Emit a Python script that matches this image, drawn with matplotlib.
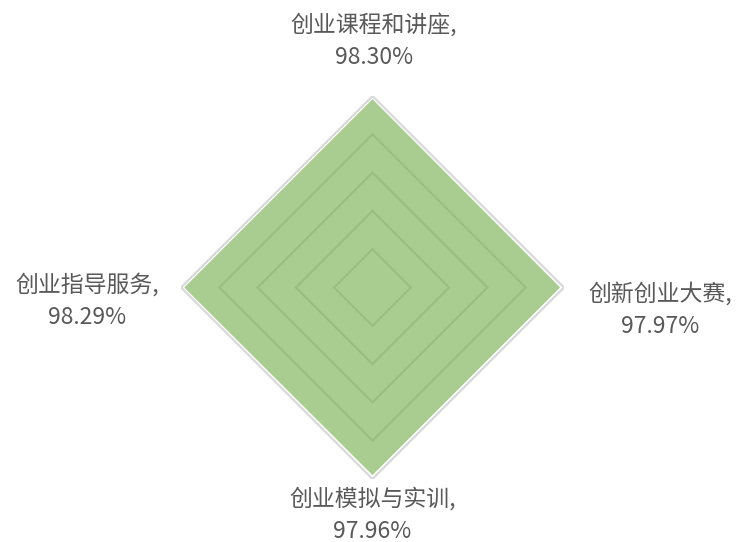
import numpy as np
import matplotlib
matplotlib.use("Agg")
import matplotlib.pyplot as plt

plt.rcParams['font.family'] = ['Noto Sans CJK SC', 'DejaVu Sans']

categories = ["创业课程和讲座", "创新创业大赛", "创业模拟与实训", "创业指导服务"]
values = [98.30, 97.97, 97.96, 98.29]
value_labels = ["98.30%", "97.97%", "97.96%", "98.29%"]
grid_levels = [20, 40, 60, 80, 100]

W, H = 737, 542
fig = plt.figure(figsize=(W / 100, H / 100), dpi=100)
cx, cy, R = 372.5, 287.5, 191.5
ax = fig.add_axes([(cx - R) / W, (H - cy - R) / H, 2 * R / W, 2 * R / H], projection='polar')
ax.set_theta_offset(np.pi / 2)
ax.set_theta_direction(-1)
ax.set_ylim(0, 100)
ax.grid(False)
ax.set_xticks([])
ax.set_yticks([])
ax.spines['polar'].set_visible(False)
ax.patch.set_alpha(0)

n = len(categories)
angles = np.linspace(0, 2 * np.pi, n, endpoint=False)
closed = np.concatenate([angles, angles[:1]])

for lvl in grid_levels:
    ax.plot(closed, [lvl] * (n + 1), color='#D9D9D9', lw=1.6, zorder=1, solid_joinstyle='miter')

vals = values + values[:1]
ax.fill(closed, vals, color='#70AD47', alpha=0.6, lw=0, zorder=2)

txt_color = '#595959'
fs = 16.5
positions = [(374, 41, 'center'), (660, 310, 'center'), (372.5, 515, 'center'), (87, 301, 'center')]
for (x, y, ha), cat, vl in zip(positions, categories, value_labels):
    fig.text(x / W, 1 - y / H, f"{cat},\n{vl}", ha=ha, va='center', fontsize=fs,
             color=txt_color, linespacing=1.5, multialignment='center')

fig.savefig("out.png", dpi=100)
